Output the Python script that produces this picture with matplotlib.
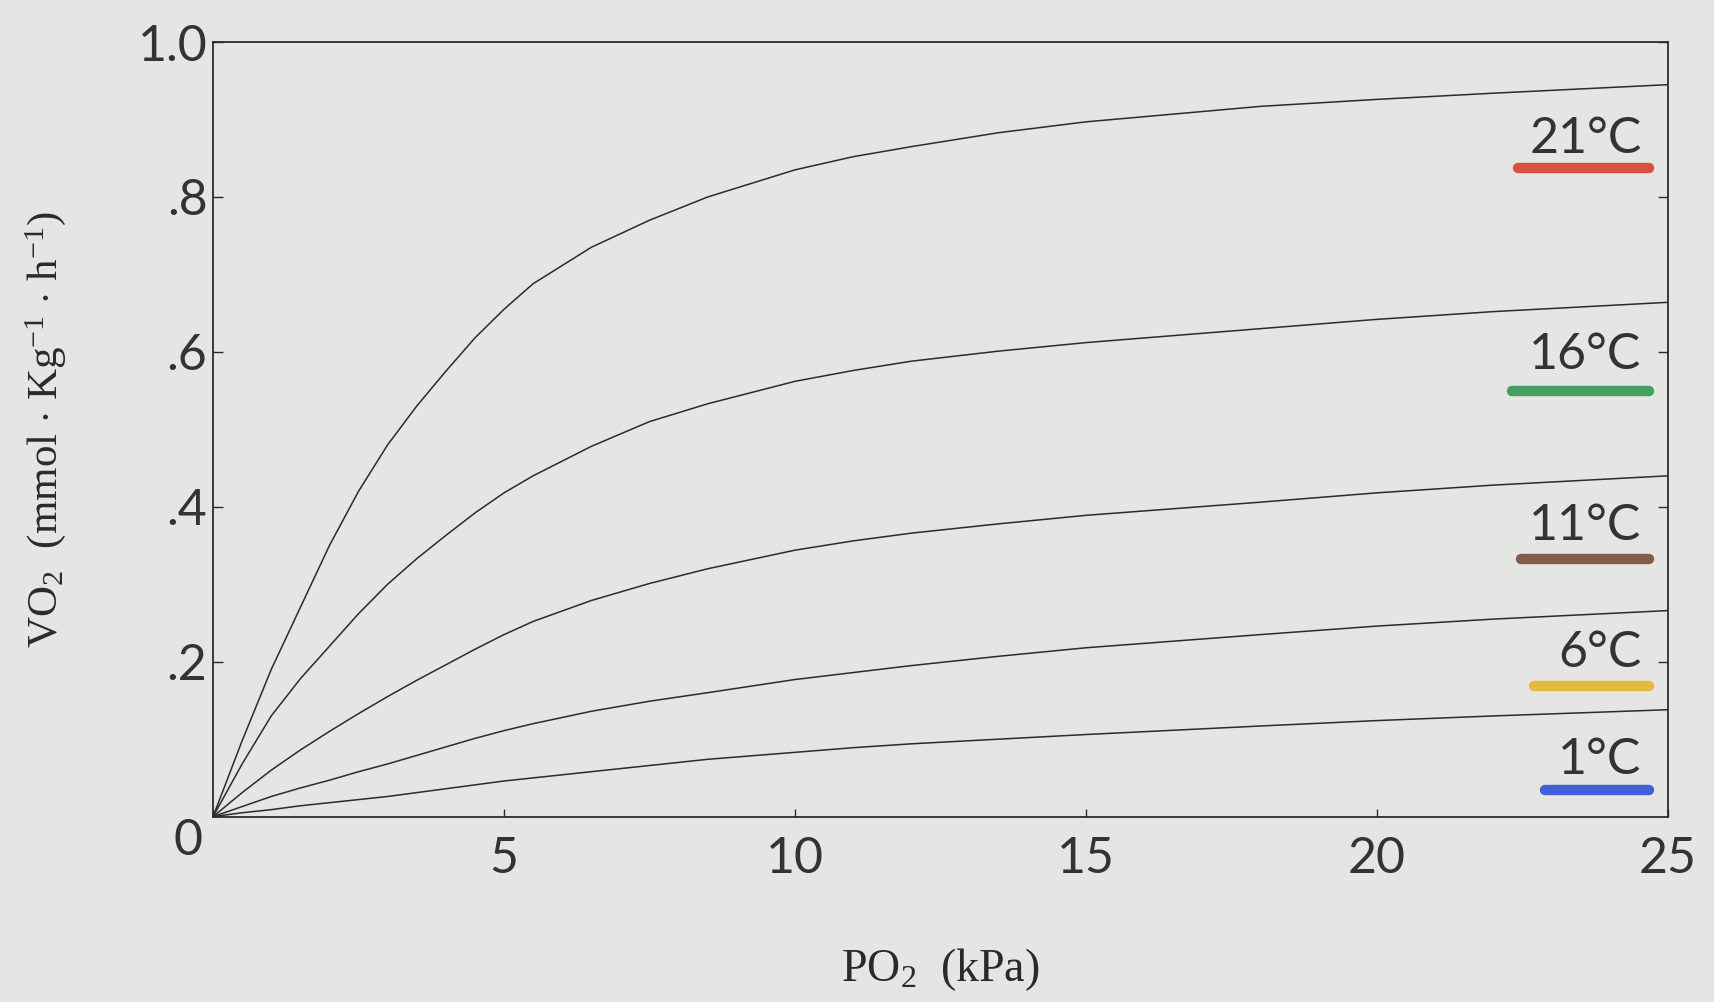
import matplotlib
matplotlib.use("Agg")
import matplotlib.pyplot as plt
import matplotlib.transforms as mtransforms

plt.rcParams["mathtext.fontset"] = "custom"
plt.rcParams["mathtext.rm"] = "Liberation Serif"
plt.rcParams["mathtext.it"] = "Liberation Serif:italic"

# ---- data ----
po2 = [0, 0.5, 1, 1.5, 2, 2.5, 3, 3.5, 4, 4.5, 5, 5.5, 6.5, 7.5, 8.5, 10, 11, 12,
       13.5, 15, 18, 20, 22, 25]
vo2_21 = [0, 0.098, 0.19, 0.27, 0.35, 0.42, 0.48, 0.53, 0.575, 0.618, 0.655, 0.688,
          0.735, 0.77, 0.80, 0.835, 0.852, 0.865, 0.883, 0.897, 0.917, 0.926,
          0.934, 0.945]
vo2_16 = [0, 0.068, 0.13, 0.178, 0.22, 0.262, 0.30, 0.333, 0.363, 0.392, 0.418,
          0.44, 0.478, 0.51, 0.533, 0.562, 0.576, 0.588, 0.601, 0.612, 0.630,
          0.642, 0.652, 0.664]
vo2_11 = [0, 0.031, 0.06, 0.086, 0.11, 0.133, 0.155, 0.176, 0.196, 0.216, 0.235,
          0.252, 0.279, 0.301, 0.320, 0.344, 0.356, 0.366, 0.378, 0.389, 0.406,
          0.418, 0.428, 0.440]
vo2_6 = [0, 0.013, 0.026, 0.037, 0.047, 0.058, 0.068, 0.079, 0.09, 0.101, 0.111,
         0.12, 0.136, 0.149, 0.160, 0.177, 0.186, 0.195, 0.207, 0.218, 0.235,
         0.246, 0.255, 0.266]
vo2_1 = [0, 0.005, 0.009, 0.014, 0.018, 0.022, 0.026, 0.031, 0.036, 0.041, 0.046,
         0.05, 0.058, 0.066, 0.074, 0.083, 0.089, 0.094, 0.100, 0.106, 0.117,
         0.124, 0.130, 0.138]

series = [vo2_21, vo2_16, vo2_11, vo2_6, vo2_1]
temp_labels = ["21°C", "16°C", "11°C", "6°C", "1°C"]
temp_colors = ["#d8402c", "#2f9a52", "#7a4c38", "#e2b62e", "#2f52d6"]

x_ticks = [0, 5, 10, 15, 20, 25]
x_ticklabels = ["0", "5", "10", "15", "20", "25"]
y_ticks = [0.2, 0.4, 0.6, 0.8, 1.0]
y_ticklabels = [".2", ".4", ".6", ".8", "1.0"]

# ---- figure ----
bg = "#e5e5e3"
fig = plt.figure(figsize=(17.14, 10.02), dpi=100)
fig.patch.set_facecolor(bg)
ax = fig.add_axes([0.1243, 0.185, 0.8487, 0.773])
ax.set_facecolor(bg)

ink = "#2b2b2b"
for ys in series:
    ax.plot(po2, ys, color=ink, lw=1.1, solid_joinstyle="round")

ax.set_xlim(0, 25)
ax.set_ylim(0, 1.0)

num_font = dict(family=["Lato", "DejaVu Sans"], size=36, color="#333333")
ax.set_xticks(x_ticks)
ax.set_xticklabels(x_ticklabels, **num_font)
ax.set_yticks(y_ticks)
ax.set_yticklabels(y_ticklabels, **num_font)
ax.tick_params(axis="x", direction="in", length=6, width=1.0, color=ink, pad=14)
ax.tick_params(axis="y", direction="in", length=7, width=1.0, color=ink, pad=4,
               right=True)
for sp in ax.spines.values():
    sp.set_color(ink)
    sp.set_linewidth(1.3)

# shift the "0" x-tick label into the corner
offset = mtransforms.ScaledTranslation(-25 / 100, 18 / 100, fig.dpi_scale_trans)
lbl0 = ax.get_xticklabels()[0]
lbl0.set_transform(lbl0.get_transform() + offset)

serif = ["Liberation Serif", "DejaVu Serif"]
ax.set_xlabel(r"PO$_2$  (kPa)", family=serif, size=33, color="#2a2a2a",
              labelpad=46)
ax.set_ylabel(r"VO$_2$  (mmol $\cdot$ Kg$^{-1}$ $\cdot$ h$^{-1}$)", family=serif,
              size=31, color="#2a2a2a", labelpad=50)

# temperature labels with coloured underlines
text_y = [0.875, 0.596, 0.375, 0.211, 0.073]
bar_y = [0.837, 0.549, 0.332, 0.169, 0.034]
bar_x0 = [22.42, 22.33, 22.48, 22.70, 22.89]
for lab, col, ty, by, bx in zip(temp_labels, temp_colors, text_y, bar_y, bar_x0):
    ax.text(24.55, ty, lab, ha="right", va="center",
            family=["Lato", "DejaVu Sans"], size=36, color="#333333")
    ax.plot([bx, 24.68], [by, by], color=col, lw=7.5, solid_capstyle="round",
            alpha=0.9)

fig.savefig("out.png", dpi=100, facecolor=bg)
